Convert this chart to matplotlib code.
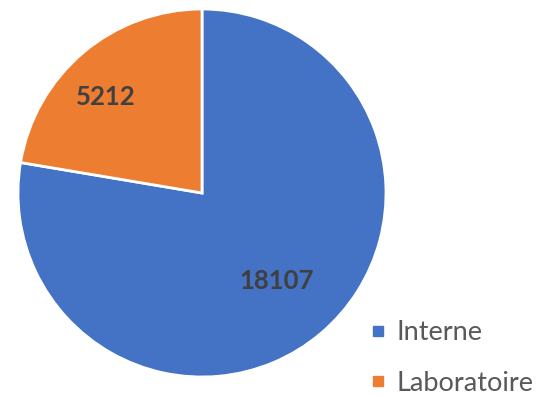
import numpy as np
import matplotlib
matplotlib.use("Agg")
import matplotlib.pyplot as plt
from matplotlib.lines import Line2D

labels = ["Interne", "Laboratoire"]
values = [18107, 5212]
colors = ["#4472C4", "#ED7D31"]
# label placement inside each wedge: distance from centre, angle nudge (deg)
label_radius = [0.63, 0.74]
label_nudge = [0.0, 5.0]

W, H = 537, 395
fig = plt.figure(figsize=(W / 100, H / 100), dpi=100)
ax = fig.add_axes([18 / W, 18 / H, 368 / W, 368 / H])

wedges, _ = ax.pie(values, colors=colors, startangle=90, counterclock=False,
                   radius=1.0,
                   wedgeprops=dict(edgecolor="white", linewidth=2))
ax.set_xlim(-1, 1)
ax.set_ylim(-1, 1)
ax.set_aspect("equal")

for w, v, r, d in zip(wedges, values, label_radius, label_nudge):
    mid = np.deg2rad((w.theta1 + w.theta2) / 2 + d)
    ax.text(r * np.cos(mid), r * np.sin(mid), str(v), ha="center", va="center",
            fontsize=18.5, fontweight="bold", color="#404040", family="Lato")

handles = [Line2D([], [], marker="s", linestyle="none", markersize=7,
                  markerfacecolor=c, markeredgecolor=c) for c in colors]
fig.legend(handles, labels, loc="upper left", bbox_to_anchor=(371 / W, 1 - 320 / H),
           frameon=False, prop=dict(family="Lato", size=19.5), labelcolor="#595959",
           handlelength=0.5, handletextpad=0.45, labelspacing=0.95,
           borderpad=0, borderaxespad=0)

fig.savefig("out.png", dpi=100)
